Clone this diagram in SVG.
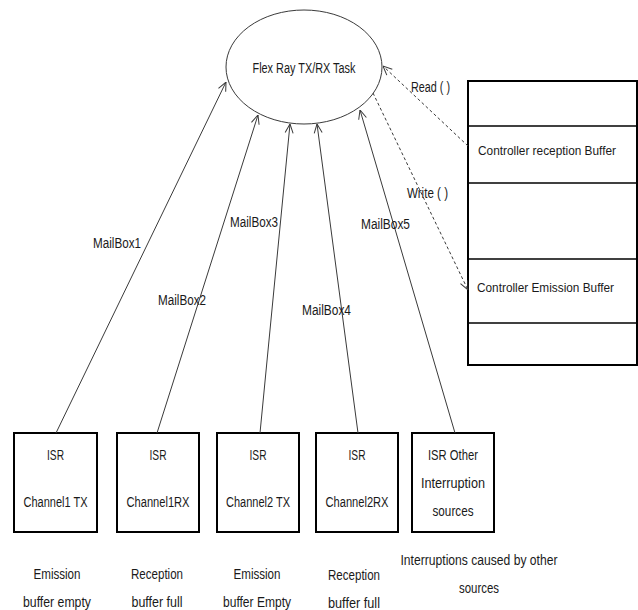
<svg xmlns="http://www.w3.org/2000/svg" width="638" height="610" viewBox="0 0 638 610">
<defs>
<style>
text{font-family:"Liberation Sans",Arial,sans-serif;font-size:15.5px;fill:#1a1a1a}
.c{text-anchor:middle}
.s{font-size:13.5px}
.box{fill:#fff;stroke:#000;stroke-width:2}
.ln{fill:none;stroke:#3a3a3a;stroke-width:1}
.dash{fill:none;stroke:#3a3a3a;stroke-width:1;stroke-dasharray:3,2.5}
</style>
<marker id="ah" viewBox="0 0 10 10" refX="10" refY="5" markerWidth="10" markerHeight="10" markerUnits="userSpaceOnUse" orient="auto">
<path d="M1,1 L10,5 L1,9" fill="none" stroke="#3a3a3a" stroke-width="1"/>
</marker>
</defs>
<rect width="638" height="610" fill="#fff"/>

<g id="task">
<ellipse cx="304" cy="67" rx="78" ry="57" fill="#fff" stroke="#3a3a3a" stroke-width="1"/>
<text class="c" x="304" y="73" textLength="103" lengthAdjust="spacingAndGlyphs">Flex Ray TX/RX Task</text>
</g>

<g id="buffers">
<rect x="468" y="81" width="169" height="284" class="box"/>
<line x1="468" y1="126" x2="637" y2="126" stroke="#000" stroke-width="1.5"/>
<line x1="468" y1="183" x2="637" y2="183" stroke="#000" stroke-width="1.5"/>
<line x1="468" y1="259" x2="637" y2="259" stroke="#000" stroke-width="1.5"/>
<line x1="468" y1="323" x2="637" y2="323" stroke="#000" stroke-width="1.5"/>
<text class="s" x="478" y="155" textLength="138" lengthAdjust="spacingAndGlyphs">Controller reception Buffer</text>
<text class="s" x="477" y="292" textLength="137" lengthAdjust="spacingAndGlyphs">Controller Emission Buffer</text>
</g>

<g id="isr1">
<rect x="14" y="433" width="83" height="99" class="box"/>
<text class="c" x="55.5" y="460" textLength="17" lengthAdjust="spacingAndGlyphs">ISR</text>
<text class="c" x="55.5" y="506.5" textLength="64" lengthAdjust="spacingAndGlyphs">Channel1 TX</text>
</g>
<g id="isr2">
<rect x="117" y="433" width="82" height="99" class="box"/>
<text class="c" x="158" y="460" textLength="17" lengthAdjust="spacingAndGlyphs">ISR</text>
<text class="c" x="158" y="506.5" textLength="63" lengthAdjust="spacingAndGlyphs">Channel1RX</text>
</g>
<g id="isr3">
<rect x="217" y="433" width="82" height="99" class="box"/>
<text class="c" x="258" y="460" textLength="17" lengthAdjust="spacingAndGlyphs">ISR</text>
<text class="c" x="258" y="506.5" textLength="64" lengthAdjust="spacingAndGlyphs">Channel2 TX</text>
</g>
<g id="isr4">
<rect x="316" y="433" width="82" height="99" class="box"/>
<text class="c" x="357" y="460" textLength="17" lengthAdjust="spacingAndGlyphs">ISR</text>
<text class="c" x="357" y="506.5" textLength="63" lengthAdjust="spacingAndGlyphs">Channel2RX</text>
</g>
<g id="isr5">
<rect x="412" y="433" width="82" height="99" class="box"/>
<text class="c" x="453" y="460" textLength="50" lengthAdjust="spacingAndGlyphs">ISR Other</text>
<text class="c" x="453" y="488" textLength="64" lengthAdjust="spacingAndGlyphs">Interruption</text>
<text class="c" x="453" y="516" textLength="41" lengthAdjust="spacingAndGlyphs">sources</text>
</g>

<g id="captions">
<text class="c" x="57" y="579" textLength="47" lengthAdjust="spacingAndGlyphs">Emission</text>
<text class="c" x="57" y="607" textLength="68" lengthAdjust="spacingAndGlyphs">buffer empty</text>
<text class="c" x="157" y="579" textLength="52" lengthAdjust="spacingAndGlyphs">Reception</text>
<text class="c" x="157" y="607" textLength="51" lengthAdjust="spacingAndGlyphs">buffer full</text>
<text class="c" x="257" y="579" textLength="47" lengthAdjust="spacingAndGlyphs">Emission</text>
<text class="c" x="257" y="607" textLength="68" lengthAdjust="spacingAndGlyphs">buffer Empty</text>
<text class="c" x="354" y="580" textLength="52" lengthAdjust="spacingAndGlyphs">Reception</text>
<text class="c" x="354" y="608" textLength="52" lengthAdjust="spacingAndGlyphs">buffer full</text>
<text class="c" x="479" y="565" textLength="157" lengthAdjust="spacingAndGlyphs">Interruptions caused by other</text>
<text class="c" x="479" y="593" textLength="40" lengthAdjust="spacingAndGlyphs">sources</text>
</g>

<g id="connectors">
<line class="ln" x1="56" y1="433" x2="226" y2="82" marker-end="url(#ah)"/>
<line class="ln" x1="157" y1="433" x2="258" y2="115" marker-end="url(#ah)"/>
<line class="ln" x1="260" y1="433" x2="290" y2="124" marker-end="url(#ah)"/>
<line class="ln" x1="358" y1="433" x2="317" y2="124" marker-end="url(#ah)"/>
<line class="ln" x1="455" y1="433" x2="360" y2="110" marker-end="url(#ah)"/>
<line class="dash" x1="468" y1="146" x2="383" y2="66" marker-end="url(#ah)"/>
<line class="dash" x1="373" y1="93" x2="468" y2="290" marker-end="url(#ah)"/>
<text x="93" y="248" textLength="48" lengthAdjust="spacingAndGlyphs">MailBox1</text>
<text x="158" y="305" textLength="48" lengthAdjust="spacingAndGlyphs">MailBox2</text>
<text x="230" y="227" textLength="48" lengthAdjust="spacingAndGlyphs">MailBox3</text>
<text x="302" y="315" textLength="49" lengthAdjust="spacingAndGlyphs">MailBox4</text>
<text x="361" y="229" textLength="49" lengthAdjust="spacingAndGlyphs">MailBox5</text>
<text x="411" y="92" textLength="39" lengthAdjust="spacingAndGlyphs">Read ( )</text>
<text x="407" y="198" textLength="41" lengthAdjust="spacingAndGlyphs">Write ( )</text>
</g>
</svg>
